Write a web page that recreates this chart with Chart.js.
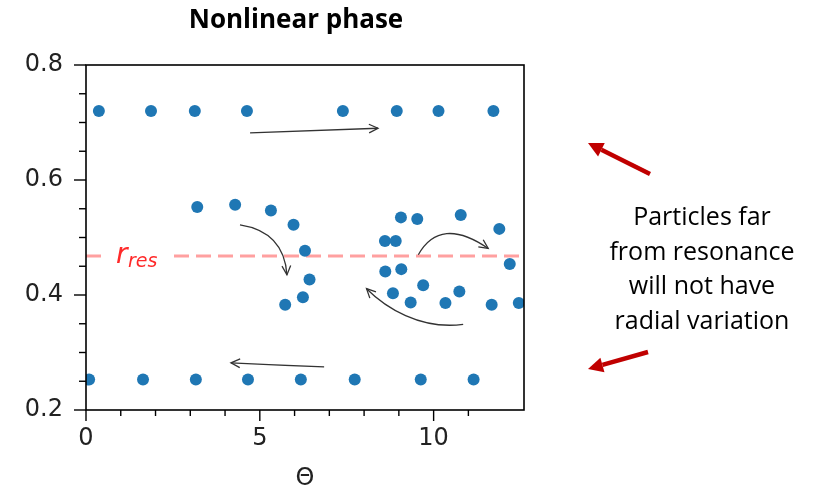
<!DOCTYPE html>
<html>
<head>
<meta charset="utf-8">
<script src="https://cdn.jsdelivr.net/npm/chart.js@4.4.0/dist/chart.umd.min.js"></script>
<style>
  html, body { margin: 0; padding: 0; background: #fff; }
</style>
</head>
<body>
<canvas id="phaseChart" width="823" height="495"></canvas>
<script>
// ---- Data ----
// particle phase angle (theta) and radius, grouped by band
const thetaOuter = [0.37, 1.87, 3.13, 4.63, 7.39, 8.94, 10.14, 11.72];
const radiusOuter = [0.72, 0.72, 0.72, 0.72, 0.72, 0.72, 0.72, 0.72];

const thetaInner = [0.09, 1.64, 3.16, 4.66, 6.18, 7.73, 9.63, 11.15];
const radiusInner = [0.253, 0.253, 0.253, 0.253, 0.253, 0.253, 0.253, 0.253];

const thetaTrapped = [3.20, 4.29, 5.32, 5.97, 6.30, 6.43, 6.24, 5.73,
    9.06, 9.53, 10.78, 11.89, 8.60, 8.91, 12.19, 8.61,
    9.07, 9.70, 10.74, 8.83, 9.34, 10.34, 11.67, 12.45];
const radiusTrapped = [0.553, 0.557, 0.547, 0.522, 0.477, 0.427, 0.396, 0.383,
    0.535, 0.532, 0.539, 0.515, 0.494, 0.494, 0.454, 0.441,
    0.445, 0.417, 0.406, 0.403, 0.387, 0.386, 0.383, 0.386];

const rRes = 0.468;
const thetaMax = 12.6;
const xMajor = [0, 5, 10];
const yMajor = [0.2, 0.4, 0.6, 0.8];

// flow arrows in (theta, r): start, control(s), end
const flowArrows = [
    [[4.72, 0.682], [6.56, 0.686], [8.40, 0.690]],
    [[6.85, 0.275], [5.51, 0.278], [4.17, 0.282]],
    [[4.43, 0.522], [5.70, 0.510], [5.78, 0.435]],
    [[9.56, 0.470], [10.19, 0.538], [11.57, 0.481]],
    [[10.85, 0.349], [9.61, 0.339], [8.60, 0.379], [8.07, 0.411]]
];

const zip = (xs, ys) => xs.map((x, i) => ({ x, y: ys[i] }));
const particles = [
    ...zip(thetaOuter, radiusOuter),
    ...zip(thetaInner, radiusInner),
    ...zip(thetaTrapped, radiusTrapped)
];

const isMajorX = v => xMajor.some(m => Math.abs(m - v) < 1e-6);
const isMajorY = v => yMajor.some(m => Math.abs(m - v) < 1e-6);

function arrowHead(ctx, fromX, fromY, toX, toY, len, spread) {
    const a = Math.atan2(toY - fromY, toX - fromX);
    ctx.beginPath();
    ctx.moveTo(toX - len * Math.cos(a - spread), toY - len * Math.sin(a - spread));
    ctx.lineTo(toX, toY);
    ctx.lineTo(toX - len * Math.cos(a + spread), toY - len * Math.sin(a + spread));
    ctx.stroke();
}

function redArrow(ctx, x0, y0, x1, y1) {
    const a = Math.atan2(y1 - y0, x1 - x0);
    const head = 15, half = 7.5;
    const bx = x1 - head * Math.cos(a), by = y1 - head * Math.sin(a);
    ctx.strokeStyle = '#c00000';
    ctx.fillStyle = '#c00000';
    ctx.lineWidth = 4.5;
    ctx.beginPath();
    ctx.moveTo(x0, y0);
    ctx.lineTo(bx, by);
    ctx.stroke();
    ctx.beginPath();
    ctx.moveTo(x1, y1);
    ctx.lineTo(bx + half * Math.sin(a), by - half * Math.cos(a));
    ctx.lineTo(bx - half * Math.sin(a), by + half * Math.cos(a));
    ctx.closePath();
    ctx.fill();
}

const decor = {
    id: 'decor',
    afterDraw(chart) {
        const { ctx, chartArea: area, scales: { x, y } } = chart;
        ctx.save();

        // frame
        ctx.strokeStyle = '#000';
        ctx.lineWidth = 1.6;
        ctx.strokeRect(area.left, area.top, area.right - area.left, area.bottom - area.top);

        // tick marks
        ctx.lineWidth = 1.4;
        x.ticks.forEach(t => {
            if (Math.abs(t.value - Math.round(t.value)) > 1e-6) return;
            const px = x.getPixelForValue(t.value);
            const len = isMajorX(t.value) ? 11 : 6;
            ctx.beginPath();
            ctx.moveTo(px, area.bottom);
            ctx.lineTo(px, area.bottom + len);
            ctx.stroke();
        });
        y.ticks.forEach(t => {
            const py = y.getPixelForValue(t.value);
            const len = isMajorY(t.value) ? 12 : 7;
            ctx.beginPath();
            ctx.moveTo(area.left, py);
            ctx.lineTo(area.left - len, py);
            ctx.stroke();
        });

        // resonance label over the dashed line
        const ry = y.getPixelForValue(rRes);
        ctx.fillStyle = '#fff';
        ctx.fillRect(area.left + 16, ry - 14, 68, 26);
        ctx.fillStyle = '#ff2a2a';
        ctx.textBaseline = 'alphabetic';
        ctx.textAlign = 'left';
        ctx.font = 'italic 28px "DejaVu Sans"';
        ctx.fillText('r', area.left + 30, ry + 7);
        ctx.font = 'italic 19px "DejaVu Sans"';
        ctx.fillText('res', area.left + 42, ry + 11);

        // flow arrows
        ctx.strokeStyle = '#333';
        ctx.lineWidth = 1.3;
        flowArrows.forEach(path => {
            const p = path.map(([tx, ty]) => [x.getPixelForValue(tx), y.getPixelForValue(ty)]);
            ctx.beginPath();
            ctx.moveTo(p[0][0], p[0][1]);
            if (p.length === 3) ctx.quadraticCurveTo(p[1][0], p[1][1], p[2][0], p[2][1]);
            else ctx.bezierCurveTo(p[1][0], p[1][1], p[2][0], p[2][1], p[3][0], p[3][1]);
            ctx.stroke();
            const end = p[p.length - 1], prev = p[p.length - 2];
            arrowHead(ctx, prev[0], prev[1], end[0], end[1], 10, 0.45);
        });

        // title
        ctx.fillStyle = '#000';
        ctx.textAlign = 'center';
        ctx.font = 'bold 26px "Open Sans"';
        ctx.fillText('Nonlinear phase', 296, 28);

        // side note
        ctx.font = '25px "Open Sans"';
        ['Particles far', 'from resonance', 'will not have', 'radial variation']
            .forEach((line, i) => ctx.fillText(line, 702, 225 + i * 34.5));

        redArrow(ctx, 650, 174, 588, 143);
        redArrow(ctx, 648, 352, 588, 369);

        ctx.restore();
    }
};

new Chart(document.getElementById('phaseChart'), {
    data: {
        datasets: [{
            type: 'scatter',
            data: particles,
            backgroundColor: '#1f77b4',
            borderWidth: 0,
            pointRadius: 6,
            pointHoverRadius: 6,
            clip: 0,
            order: 0
        }, {
            type: 'line',
            data: [{ x: 0, y: rRes }, { x: thetaMax, y: rRes }],
            borderColor: '#ffa0a0',
            borderWidth: 3,
            borderDash: [15, 7],
            pointRadius: 0,
            order: 1
        }]
    },
    options: {
        responsive: false,
        animation: false,
        devicePixelRatio: 1,
        layout: { padding: { top: 65, right: 299, left: 0, bottom: 0 } },
        plugins: {
            legend: { display: false },
            tooltip: { enabled: false }
        },
        scales: {
            x: {
                type: 'linear',
                min: 0,
                max: thetaMax,
                afterFit: s => { s.height = 85; },
                grid: { display: false, drawTicks: false },
                border: { display: false },
                ticks: {
                    stepSize: 1,
                    autoSkip: false,
                    maxRotation: 0,
                    padding: 14,
                    color: '#222',
                    font: { family: 'DejaVu Sans', size: 24 },
                    callback: v => isMajorX(v) ? String(v) : ''
                },
                title: {
                    display: true,
                    text: 'Θ',
                    color: '#222',
                    font: { family: 'DejaVu Sans', size: 24 },
                    padding: { top: 0, bottom: 2 }
                }
            },
            y: {
                type: 'linear',
                min: 0.2,
                max: 0.8,
                afterFit: s => { s.width = 86; },
                grid: { display: false, drawTicks: false },
                border: { display: false },
                ticks: {
                    stepSize: 0.05,
                    autoSkip: false,
                    padding: 23,
                    color: '#222',
                    font: { family: 'DejaVu Sans', size: 24 },
                    callback: v => isMajorY(v) ? v.toFixed(1) : ''
                }
            }
        }
    },
    plugins: [decor]
});
</script>
</body>
</html>
